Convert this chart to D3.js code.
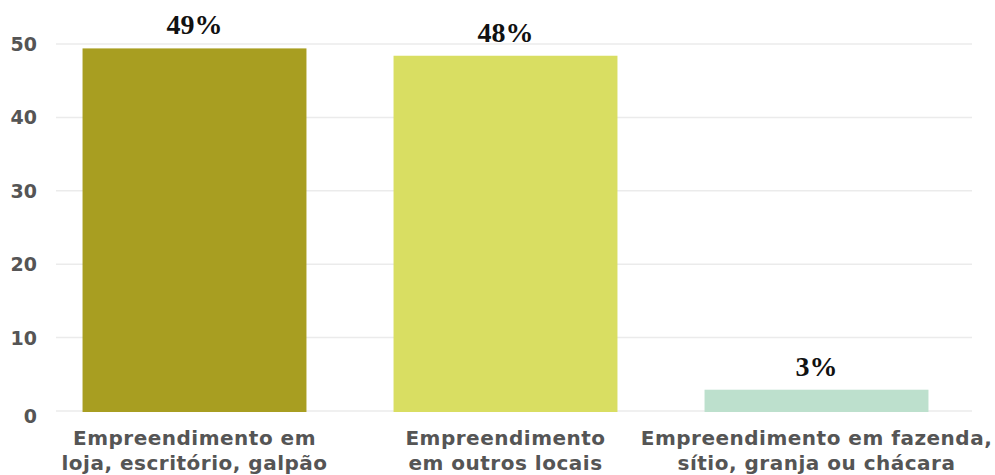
<!DOCTYPE html>
<html>
<head>
<meta charset="UTF-8">
<title>Empreendimentos</title>
<style>
  body { margin: 0; background: #fff; }
  .tick-label { font-family: "DejaVu Sans", sans-serif; font-weight: 700; fill: #555; }
  .cat-label { font-family: "DejaVu Sans", sans-serif; font-weight: 700; fill: #555; letter-spacing: 0.5px; }
  .val-label { font-family: "Liberation Serif", serif; font-weight: 700; fill: #111; }
</style>
<script src="https://d3js.org/d3.v7.min.js"></script>
</head>
<body>
<svg width="995" height="475"></svg>
<script>
var categories = [
  ["Empreendimento em", "loja, escritório, galpão"],
  ["Empreendimento", "em outros locais"],
  ["Empreendimento em fazenda,", "sítio, granja ou chácara"]
];
var values = [49.4, 48.4, 2.9];
var valueLabels = ["49%", "48%", "3%"];
var barColors = ["#a89e21", "#d9de62", "#bde0cd"];
var yTicks = [0, 10, 20, 30, 40, 50];

var svg = d3.select("svg");

var x = d3.scaleBand()
  .domain(d3.range(categories.length))
  .range([39, 972])
  .paddingInner(0.28)
  .paddingOuter(0.14);

var y = d3.scaleLinear().domain([0, 50]).range([411, 44]);

// gridlines
svg.append("g").selectAll("line")
  .data(yTicks)
  .join("line")
  .attr("x1", 56).attr("x2", 972)
  .attr("y1", d => y(d)).attr("y2", d => y(d))
  .attr("stroke", "#ebebeb")
  .attr("stroke-width", 1.5);

// y tick labels
svg.append("g").selectAll("text")
  .data(yTicks)
  .join("text")
  .attr("class", "tick-label")
  .attr("x", 37)
  .attr("y", d => y(d) + 7 + (d === 0 ? 5 : 0))
  .attr("text-anchor", "end")
  .attr("font-size", 19)
  .text(d => d);

// bars
svg.append("g").selectAll("rect")
  .data(values)
  .join("rect")
  .attr("x", (d, i) => x(i))
  .attr("width", x.bandwidth())
  .attr("y", d => y(d))
  .attr("height", d => y(0) - y(d) + 1)
  .attr("fill", (d, i) => barColors[i]);

// value labels
svg.append("g").selectAll("text")
  .data(values)
  .join("text")
  .attr("class", "val-label")
  .attr("x", (d, i) => x(i) + x.bandwidth() / 2)
  .attr("y", d => y(d) - 14)
  .attr("text-anchor", "middle")
  .attr("font-size", 28)
  .text((d, i) => valueLabels[i]);

// category labels
var cats = svg.append("g").selectAll("text")
  .data(categories)
  .join("text")
  .attr("class", "cat-label")
  .attr("text-anchor", "middle")
  .attr("font-size", 20)
  .attr("x", (d, i) => x(i) + x.bandwidth() / 2)
  .attr("y", 445);

cats.selectAll("tspan")
  .data(d => d)
  .join("tspan")
  .attr("x", function() { return d3.select(this.parentNode).attr("x"); })
  .attr("dy", (d, i) => i === 0 ? 0 : 25)
  .text(d => d);
</script>
</body>
</html>
